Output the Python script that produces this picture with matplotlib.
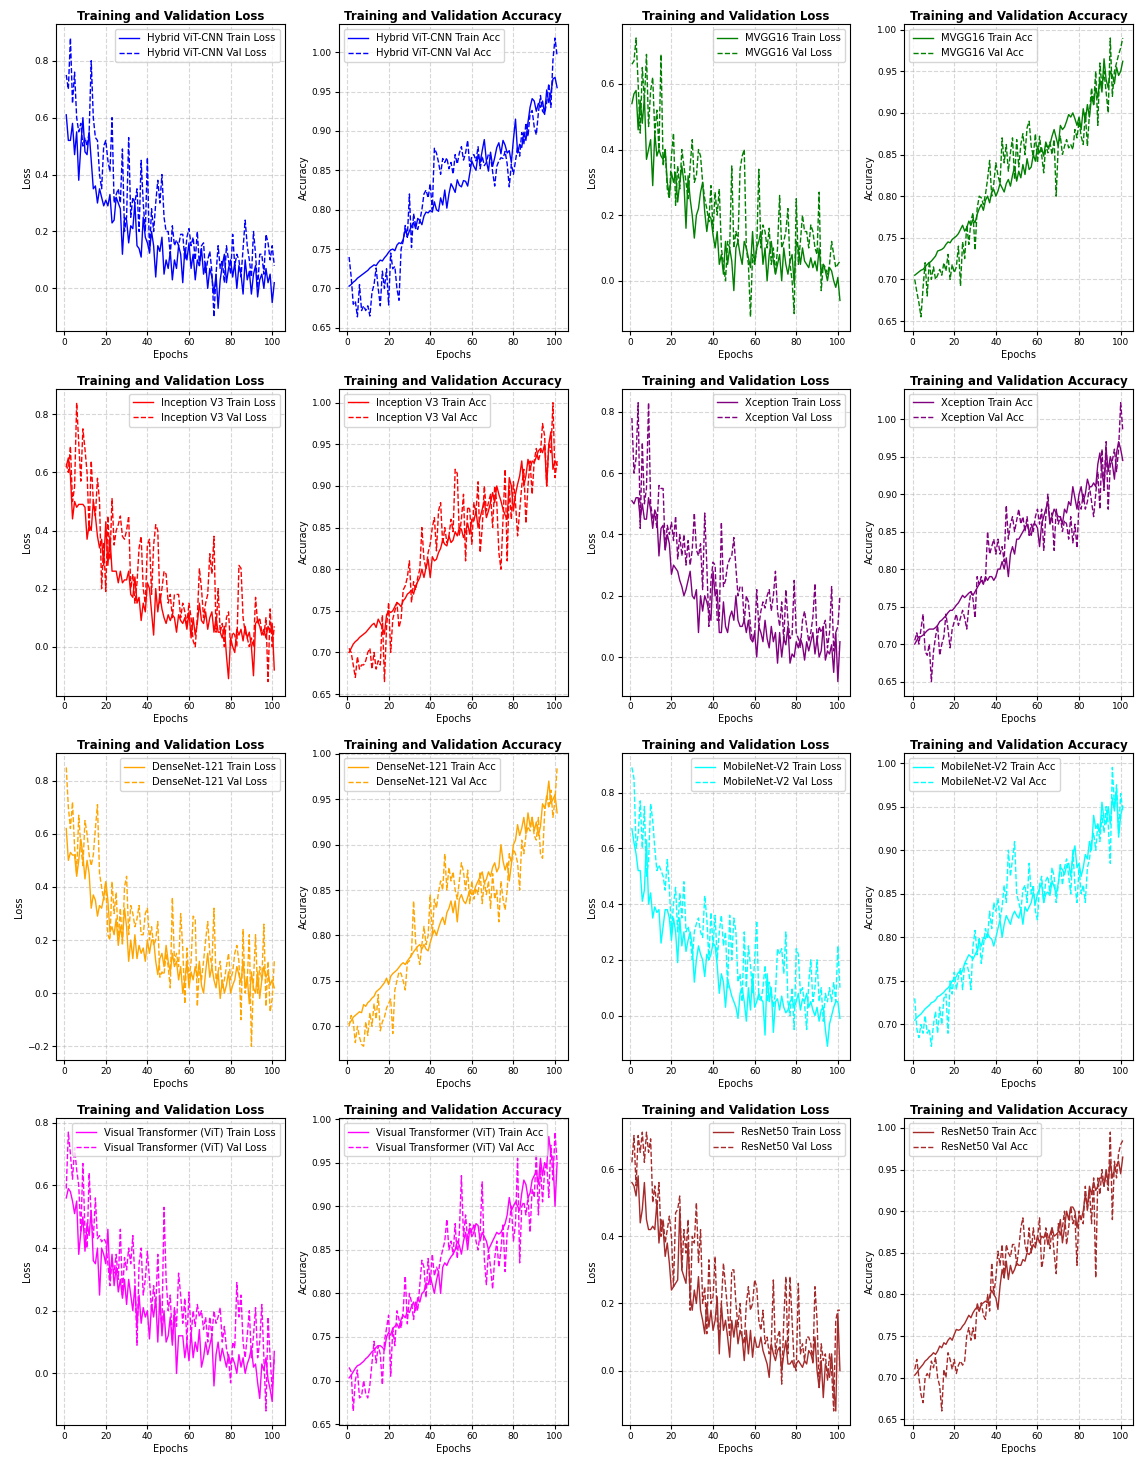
import matplotlib
matplotlib.use("Agg")
import matplotlib.pyplot as plt
import numpy as np

epochs = list(range(1, 102))

model_names = ["Hybrid ViT-CNN", "MVGG16", "Inception V3", "Xception",
               "DenseNet-121", "MobileNet-V2", "Visual Transformer (ViT)", "ResNet50"]
model_colors = ["blue", "green", "red", "purple", "orange", "cyan", "magenta", "brown"]

# ---------------- Hybrid ViT-CNN ----------------
hv_tl = [0.61, 0.52, 0.52, 0.58, 0.47, 0.55, 0.38, 0.50, 0.60, 0.48,
         0.47, 0.55, 0.45, 0.35, 0.36, 0.30, 0.35, 0.32, 0.29, 0.31,
         0.29, 0.33, 0.23, 0.24, 0.32, 0.30, 0.28, 0.12, 0.25, 0.24,
         0.16, 0.22, 0.21, 0.30, 0.15, 0.14, 0.11, 0.25, 0.18, 0.16,
         0.13, 0.20, 0.15, 0.04, 0.15, 0.13, 0.18, 0.05, 0.10, 0.07,
         0.13, 0.03, 0.10, 0.07, 0.15, 0.12, 0.02, 0.14, 0.10, 0.16,
         0.07, 0.12, 0.03, 0.10, 0.08, 0.14, 0.05, 0.09, 0.00, 0.07,
         0.04, -0.02, 0.05, -0.07, 0.03, 0.08, 0.12, 0.02, 0.07, 0.10,
         0.04, 0.09, 0.00, 0.08, 0.05, -0.02, 0.10, 0.03, 0.06, -0.02,
         0.05, 0.08, -0.03, 0.03, 0.05, 0.00, 0.07, 0.02, 0.05, -0.05,
         0.02]
hv_vl = [0.75, 0.70, 0.88, 0.65, 0.76, 0.60, 0.55, 0.58, 0.50, 0.53,
         0.50, 0.55, 0.80, 0.60, 0.53, 0.52, 0.40, 0.35, 0.50, 0.52,
         0.45, 0.41, 0.60, 0.30, 0.33, 0.35, 0.30, 0.49, 0.20, 0.25,
         0.53, 0.25, 0.32, 0.30, 0.35, 0.20, 0.45, 0.30, 0.20, 0.46,
         0.12, 0.28, 0.20, 0.30, 0.38, 0.30, 0.40, 0.25, 0.20, 0.20,
         0.12, 0.22, 0.15, 0.17, 0.15, 0.19, 0.19, 0.10, 0.18, 0.21,
         0.15, 0.18, 0.10, 0.20, 0.08, 0.15, 0.16, 0.05, 0.10, 0.13,
         0.06, -0.10, 0.05, 0.15, 0.07, 0.10, 0.02, 0.15, 0.10, 0.05,
         0.19, 0.08, 0.12, 0.10, 0.04, 0.14, 0.24, 0.15, 0.10, 0.04,
         0.20, 0.12, 0.00, 0.12, 0.12, 0.05, 0.19, 0.16, 0.10, 0.15,
         0.08]
hv_ta = [0.703, 0.705, 0.708, 0.710, 0.713, 0.715, 0.717, 0.719, 0.721, 0.723,
         0.726, 0.728, 0.730, 0.729, 0.733, 0.736, 0.735, 0.739, 0.742, 0.746,
         0.749, 0.750, 0.748, 0.755, 0.758, 0.757, 0.762, 0.775, 0.766, 0.773,
         0.779, 0.784, 0.776, 0.789, 0.786, 0.781, 0.792, 0.797, 0.796, 0.799,
         0.797, 0.810, 0.800, 0.798, 0.815, 0.806, 0.825, 0.802, 0.820, 0.833,
         0.828, 0.822, 0.838, 0.831, 0.829, 0.837, 0.836, 0.830, 0.846, 0.862,
         0.855, 0.850, 0.870, 0.860, 0.875, 0.889, 0.862, 0.849, 0.873, 0.855,
         0.866, 0.879, 0.885, 0.871, 0.888, 0.882, 0.872, 0.875, 0.860, 0.889,
         0.915, 0.872, 0.883, 0.879, 0.898, 0.888, 0.911, 0.930, 0.941, 0.938,
         0.925, 0.935, 0.930, 0.938, 0.921, 0.952, 0.936, 0.948, 0.966, 0.968,
         0.955]
hv_va = [0.740, 0.715, 0.680, 0.684, 0.664, 0.705, 0.672, 0.678, 0.672, 0.678,
         0.665, 0.695, 0.705, 0.726, 0.700, 0.678, 0.722, 0.700, 0.725, 0.679,
         0.745, 0.725, 0.728, 0.700, 0.685, 0.750, 0.760, 0.780, 0.765, 0.820,
         0.752, 0.795, 0.780, 0.775, 0.786, 0.800, 0.820, 0.825, 0.815, 0.833,
         0.800, 0.878, 0.872, 0.860, 0.845, 0.865, 0.860, 0.866, 0.852, 0.860,
         0.845, 0.870, 0.858, 0.872, 0.880, 0.863, 0.872, 0.888, 0.855, 0.868,
         0.870, 0.862, 0.880, 0.852, 0.868, 0.856, 0.860, 0.871, 0.868, 0.848,
         0.830, 0.855, 0.862, 0.866, 0.865, 0.874, 0.858, 0.829, 0.858, 0.845,
         0.862, 0.880, 0.868, 0.898, 0.883, 0.910, 0.893, 0.922, 0.926, 0.905,
         0.895, 0.923, 0.945, 0.925, 0.922, 0.936, 0.960, 0.930, 0.990, 1.018,
         0.995]

# ---------------- MVGG16 ----------------
mv_tl = [0.54, 0.57, 0.58, 0.46, 0.55, 0.48, 0.56, 0.37, 0.40, 0.43,
         0.29, 0.45, 0.38, 0.40, 0.38, 0.37, 0.40, 0.30, 0.26, 0.33,
         0.30, 0.33, 0.24, 0.30, 0.35, 0.30, 0.16, 0.32, 0.25, 0.20,
         0.13, 0.20, 0.22, 0.27, 0.30, 0.21, 0.15, 0.20, 0.19, 0.14,
         0.10, 0.15, 0.05, 0.08, 0.02, 0.12, 0.05, 0.10, 0.06, -0.03,
         0.10, 0.12, 0.08, 0.05, 0.12, 0.10, 0.07, 0.04, 0.15, 0.05,
         0.10, 0.12, 0.15, 0.05, 0.10, 0.00, 0.08, 0.12, 0.06, 0.02,
         0.05, 0.08, 0.00, 0.10, 0.05, 0.02, 0.06, 0.08, -0.01, 0.12,
         0.10, 0.05, 0.10, 0.06, 0.05, 0.04, 0.07, 0.04, 0.06, 0.03,
         0.10, 0.02, 0.05, 0.03, 0.00, 0.04, 0.03, 0.00, -0.02, 0.01,
         -0.06]
mv_vl = [0.66, 0.67, 0.74, 0.60, 0.45, 0.65, 0.55, 0.69, 0.47, 0.58,
         0.62, 0.45, 0.52, 0.40, 0.69, 0.35, 0.40, 0.28, 0.25, 0.38,
         0.45, 0.23, 0.35, 0.28, 0.40, 0.35, 0.30, 0.25, 0.35, 0.43,
         0.30, 0.32, 0.40, 0.38, 0.30, 0.25, 0.22, 0.18, 0.29, 0.15,
         0.27, 0.20, 0.28, 0.10, 0.05, 0.00, 0.12, 0.10, 0.35, 0.10,
         0.15, 0.12, 0.34, 0.38, 0.40, 0.10, 0.05, -0.11, 0.08, 0.05,
         0.10, 0.34, 0.10, 0.17, 0.15, 0.10, 0.16, 0.05, 0.10, 0.02,
         0.10, 0.26, 0.10, 0.12, 0.15, 0.22, 0.05, 0.00, -0.10, 0.25,
         0.05, 0.12, 0.20, 0.15, 0.15, 0.10, 0.17, 0.15, 0.10, 0.08,
         0.27, -0.03, 0.05, 0.04, 0.02, 0.05, 0.12, 0.08, 0.04, 0.05,
         0.06]
mv_ta = [0.705, 0.707, 0.709, 0.711, 0.712, 0.715, 0.718, 0.720, 0.722, 0.725,
         0.728, 0.734, 0.735, 0.736, 0.738, 0.742, 0.745, 0.744, 0.748, 0.750,
         0.752, 0.755, 0.760, 0.765, 0.758, 0.762, 0.770, 0.765, 0.772, 0.768,
         0.778, 0.785, 0.790, 0.783, 0.795, 0.800, 0.792, 0.805, 0.808, 0.800,
         0.806, 0.815, 0.810, 0.805, 0.815, 0.820, 0.812, 0.825, 0.835, 0.818,
         0.830, 0.822, 0.838, 0.826, 0.845, 0.832, 0.835, 0.850, 0.842, 0.860,
         0.852, 0.858, 0.848, 0.865, 0.858, 0.862, 0.872, 0.880, 0.870, 0.860,
         0.885, 0.880, 0.883, 0.890, 0.898, 0.895, 0.900, 0.893, 0.885, 0.895,
         0.880, 0.905, 0.890, 0.910, 0.895, 0.920, 0.910, 0.930, 0.918, 0.940,
         0.925, 0.965, 0.940, 0.930, 0.950, 0.945, 0.935, 0.955, 0.945, 0.950,
         0.962]
mv_va = [0.700, 0.685, 0.672, 0.655, 0.690, 0.720, 0.680, 0.722, 0.700, 0.715,
         0.700, 0.705, 0.712, 0.705, 0.720, 0.710, 0.730, 0.700, 0.718, 0.708,
         0.715, 0.740, 0.692, 0.745, 0.725, 0.765, 0.742, 0.770, 0.780, 0.735,
         0.785, 0.800, 0.798, 0.790, 0.802, 0.820, 0.843, 0.800, 0.815, 0.840,
         0.825, 0.815, 0.870, 0.840, 0.862, 0.830, 0.852, 0.870, 0.820, 0.868,
         0.835, 0.862, 0.875, 0.850, 0.882, 0.890, 0.860, 0.848, 0.875, 0.840,
         0.872, 0.850, 0.828, 0.862, 0.852, 0.865, 0.850, 0.868, 0.800, 0.862,
         0.872, 0.850, 0.860, 0.868, 0.858, 0.862, 0.856, 0.880, 0.870, 0.890,
         0.872, 0.862, 0.900, 0.860, 0.900, 0.930, 0.910, 0.950, 0.885, 0.960,
         0.930, 0.950, 0.925, 0.900, 0.990, 0.920, 0.950, 0.960, 0.970, 0.978,
         0.990]

# ---------------- Inception V3 ----------------
iv_tl = [0.62, 0.65, 0.59, 0.44, 0.50, 0.48, 0.49, 0.49, 0.49, 0.48,
         0.37, 0.42, 0.40, 0.50, 0.45, 0.38, 0.34, 0.37, 0.28, 0.43,
         0.28, 0.38, 0.26, 0.26, 0.26, 0.22, 0.26, 0.22, 0.23, 0.23,
         0.26, 0.18, 0.17, 0.24, 0.15, 0.17, 0.09, 0.15, 0.12, 0.22,
         0.20, 0.12, 0.04, 0.20, 0.12, 0.18, 0.13, 0.10, 0.08, 0.11,
         0.09, 0.11, 0.10, 0.05, 0.11, 0.09, 0.08, 0.10, 0.06, 0.12,
         0.03, 0.10, 0.04, 0.08, 0.15, 0.09, 0.08, 0.12, 0.06, 0.10,
         0.12, 0.05, 0.10, 0.05, 0.05, 0.03, 0.07, -0.03, -0.11, 0.03,
         0.00, -0.02, 0.06, 0.04, 0.06, 0.02, 0.07, 0.03, 0.05, 0.00,
         -0.10, 0.08, 0.09, 0.07, 0.04, 0.06, 0.03, 0.07, 0.05, 0.08,
         -0.08]
iv_vl = [0.63, 0.60, 0.69, 0.50, 0.55, 0.84, 0.70, 0.57, 0.75, 0.68,
         0.60, 0.40, 0.64, 0.50, 0.45, 0.58, 0.50, 0.20, 0.36, 0.19,
         0.45, 0.30, 0.51, 0.35, 0.40, 0.42, 0.45, 0.38, 0.37, 0.40,
         0.45, 0.20, 0.25, 0.15, 0.22, 0.34, 0.38, 0.20, 0.15, 0.35,
         0.37, 0.18, 0.35, 0.42, 0.40, 0.15, 0.20, 0.26, 0.25, 0.15,
         0.18, 0.10, 0.18, 0.18, 0.18, 0.10, 0.15, 0.12, 0.08, 0.15,
         0.10, 0.02, 0.00, 0.10, 0.27, 0.20, 0.10, 0.15, 0.18, 0.32,
         0.25, 0.38, 0.05, 0.20, 0.05, 0.08, 0.00, 0.10, 0.12, 0.00,
         0.05, 0.04, 0.00, 0.28, 0.27, 0.10, 0.05, 0.03, 0.00, 0.03,
         0.00, 0.17, 0.08, 0.10, 0.05, 0.04, 0.10, -0.12, 0.13, 0.00,
         0.07]
iv_ta = [0.700, 0.705, 0.710, 0.713, 0.715, 0.718, 0.720, 0.722, 0.724, 0.727,
         0.730, 0.733, 0.735, 0.730, 0.740, 0.735, 0.730, 0.722, 0.745, 0.750,
         0.748, 0.750, 0.755, 0.760, 0.758, 0.755, 0.762, 0.765, 0.770, 0.772,
         0.775, 0.770, 0.780, 0.785, 0.790, 0.800, 0.790, 0.802, 0.812, 0.790,
         0.815, 0.810, 0.812, 0.820, 0.825, 0.835, 0.830, 0.828, 0.840, 0.832,
         0.835, 0.845, 0.840, 0.850, 0.848, 0.838, 0.845, 0.855, 0.842, 0.860,
         0.858, 0.870, 0.850, 0.862, 0.872, 0.882, 0.862, 0.870, 0.880, 0.892,
         0.880, 0.900, 0.890, 0.882, 0.872, 0.865, 0.860, 0.910, 0.900, 0.870,
         0.890, 0.902, 0.912, 0.930, 0.900, 0.912, 0.932, 0.920, 0.930, 0.928,
         0.935, 0.942, 0.945, 0.940, 0.950, 0.900, 0.950, 0.965, 0.920, 0.930,
         0.925]
iv_va = [0.705, 0.700, 0.685, 0.670, 0.695, 0.680, 0.685, 0.685, 0.690, 0.700,
         0.705, 0.680, 0.700, 0.680, 0.690, 0.685, 0.745, 0.665, 0.730, 0.760,
         0.700, 0.740, 0.750, 0.760, 0.730, 0.740, 0.775, 0.780, 0.790, 0.810,
         0.760, 0.785, 0.775, 0.790, 0.800, 0.850, 0.812, 0.800, 0.820, 0.830,
         0.850, 0.862, 0.822, 0.870, 0.880, 0.830, 0.850, 0.832, 0.840, 0.860,
         0.845, 0.920, 0.915, 0.840, 0.860, 0.890, 0.810, 0.875, 0.872, 0.830,
         0.880, 0.868, 0.905, 0.820, 0.850, 0.900, 0.870, 0.880, 0.890, 0.850,
         0.900, 0.880, 0.820, 0.800, 0.860, 0.920, 0.810, 0.900, 0.860, 0.905,
         0.880, 0.840, 0.870, 0.900, 0.920, 0.855, 0.900, 0.930, 0.890, 0.930,
         0.945, 0.930, 0.940, 0.975, 0.960, 0.900, 0.950, 0.940, 1.000, 0.910,
         0.930]

# ---------------- Xception ----------------
xc_tl = [0.51, 0.50, 0.52, 0.52, 0.45, 0.50, 0.45, 0.45, 0.52, 0.48,
         0.42, 0.48, 0.46, 0.33, 0.42, 0.43, 0.35, 0.40, 0.37, 0.27,
         0.30, 0.29, 0.28, 0.25, 0.23, 0.20, 0.22, 0.25, 0.28, 0.20,
         0.19, 0.22, 0.08, 0.20, 0.15, 0.20, 0.18, 0.15, 0.12, 0.28,
         0.20, 0.22, 0.08, 0.08, 0.18, 0.10, 0.08, 0.13, 0.15, 0.12,
         0.20, 0.12, 0.10, 0.10, 0.12, 0.08, 0.12, 0.06, 0.05, 0.08,
         0.00, 0.10, 0.08, 0.05, 0.12, 0.06, 0.03, 0.10, 0.05, 0.08,
         -0.02, 0.08, 0.00, 0.06, 0.04, 0.10, -0.02, 0.01, 0.00, 0.05,
         0.03, 0.06, 0.04, -0.01, 0.05, 0.02, 0.05, 0.08, 0.01, 0.06,
         0.00, 0.02, 0.10, -0.01, 0.02, 0.01, 0.04, -0.05, 0.08, -0.08,
         0.05]
xc_vl = [0.78, 0.60, 0.65, 0.83, 0.42, 0.70, 0.50, 0.55, 0.83, 0.50,
         0.45, 0.47, 0.42, 0.56, 0.55, 0.55, 0.35, 0.43, 0.40, 0.44,
         0.38, 0.46, 0.32, 0.40, 0.33, 0.40, 0.30, 0.38, 0.30, 0.35,
         0.47, 0.35, 0.33, 0.37, 0.22, 0.47, 0.30, 0.10, 0.25, 0.31,
         0.30, 0.12, 0.12, 0.44, 0.23, 0.25, 0.30, 0.32, 0.33, 0.39,
         0.29, 0.20, 0.23, 0.23, 0.11, 0.20, 0.18, 0.10, 0.05, 0.07,
         0.22, 0.10, 0.15, 0.18, 0.16, 0.20, 0.22, 0.15, 0.20, 0.28,
         0.15, 0.10, 0.18, 0.05, 0.22, 0.12, 0.06, 0.07, 0.25, 0.08,
         0.06, 0.03, 0.12, 0.15, 0.10, 0.05, 0.08, 0.13, 0.24, 0.05,
         0.10, 0.08, 0.10, 0.12, 0.03, 0.08, 0.23, 0.02, 0.08, 0.10,
         0.20]
xc_ta = [0.700, 0.705, 0.710, 0.710, 0.712, 0.715, 0.718, 0.720, 0.720, 0.720,
         0.722, 0.725, 0.730, 0.732, 0.735, 0.738, 0.742, 0.745, 0.745, 0.748,
         0.752, 0.755, 0.760, 0.765, 0.762, 0.765, 0.768, 0.770, 0.765, 0.770,
         0.775, 0.780, 0.785, 0.780, 0.790, 0.785, 0.790, 0.790, 0.785, 0.790,
         0.800, 0.800, 0.810, 0.800, 0.815, 0.790, 0.820, 0.830, 0.820, 0.840,
         0.840, 0.845, 0.850, 0.855, 0.860, 0.850, 0.845, 0.860, 0.860, 0.855,
         0.830, 0.860, 0.870, 0.880, 0.890, 0.860, 0.870, 0.880, 0.875, 0.870,
         0.870, 0.860, 0.880, 0.875, 0.890, 0.885, 0.910, 0.895, 0.880, 0.900,
         0.910, 0.890, 0.900, 0.920, 0.910, 0.910, 0.915, 0.910, 0.940, 0.955,
         0.930, 0.910, 0.960, 0.930, 0.950, 0.940, 0.920, 0.955, 0.970, 0.960,
         0.945]
xc_va = [0.705, 0.715, 0.700, 0.720, 0.740, 0.690, 0.685, 0.700, 0.650, 0.690,
         0.710, 0.725, 0.685, 0.700, 0.710, 0.740, 0.720, 0.695, 0.720, 0.730,
         0.740, 0.725, 0.735, 0.745, 0.735, 0.720, 0.750, 0.770, 0.760, 0.735,
         0.790, 0.780, 0.790, 0.780, 0.785, 0.850, 0.820, 0.830, 0.840, 0.820,
         0.840, 0.820, 0.830, 0.810, 0.885, 0.840, 0.860, 0.870, 0.850, 0.865,
         0.880, 0.860, 0.870, 0.850, 0.870, 0.845, 0.860, 0.850, 0.870, 0.880,
         0.860, 0.880, 0.825, 0.870, 0.900, 0.860, 0.875, 0.825, 0.880, 0.860,
         0.870, 0.850, 0.865, 0.860, 0.840, 0.870, 0.835, 0.860, 0.828, 0.890,
         0.880, 0.900, 0.880, 0.890, 0.910, 0.890, 0.870, 0.900, 0.930, 0.880,
         0.960, 0.905, 0.970, 0.880, 0.940, 0.945, 0.960, 0.930, 0.960, 1.022,
         0.985]

# ---------------- DenseNet-121 ----------------
dn_tl = [0.62, 0.50, 0.53, 0.52, 0.52, 0.44, 0.50, 0.58, 0.52, 0.43,
         0.50, 0.45, 0.32, 0.37, 0.35, 0.29, 0.33, 0.32, 0.36, 0.42,
         0.35, 0.23, 0.25, 0.22, 0.28, 0.18, 0.25, 0.20, 0.32, 0.25,
         0.12, 0.20, 0.13, 0.22, 0.13, 0.18, 0.15, 0.17, 0.12, 0.20,
         0.15, 0.20, 0.20, 0.12, 0.07, 0.13, 0.15, 0.10, 0.18, 0.12,
         0.08, 0.15, 0.10, 0.12, 0.05, 0.10, 0.00, 0.05, 0.12, 0.02,
         0.08, 0.05, 0.10, 0.06, 0.12, 0.03, 0.00, 0.08, 0.15, 0.06,
         0.10, 0.05, 0.02, 0.08, -0.02, 0.05, 0.00, 0.03, 0.08, 0.00,
         0.03, 0.05, 0.10, 0.07, 0.04, 0.12, 0.02, 0.06, -0.04, 0.08,
         0.02, 0.00, 0.08, -0.02, 0.05, 0.10, 0.06, 0.08, 0.03, 0.05,
         0.02]
dn_vl = [0.85, 0.70, 0.62, 0.72, 0.55, 0.45, 0.67, 0.55, 0.48, 0.65,
         0.60, 0.52, 0.48, 0.52, 0.62, 0.71, 0.45, 0.40, 0.35, 0.42,
         0.22, 0.20, 0.42, 0.30, 0.38, 0.20, 0.32, 0.18, 0.40, 0.44,
         0.22, 0.33, 0.30, 0.25, 0.28, 0.33, 0.22, 0.22, 0.30, 0.32,
         0.20, 0.25, 0.18, 0.20, 0.27, 0.06, 0.08, 0.07, 0.15, 0.10,
         0.02, 0.36, 0.12, 0.15, 0.10, 0.30, 0.17, -0.04, 0.17, 0.05,
         0.12, 0.29, 0.28, -0.05, 0.10, 0.05, 0.12, 0.20, 0.27, 0.15,
         0.10, 0.32, 0.05, 0.08, 0.12, 0.02, 0.05, 0.10, 0.15, 0.05,
         0.08, 0.15, 0.18, 0.12, -0.10, 0.24, 0.00, 0.05, 0.22, -0.20,
         0.05, 0.22, 0.00, 0.10, 0.05, 0.26, -0.05, 0.12, -0.07, -0.02,
         0.12]
dn_ta = [0.703, 0.706, 0.710, 0.712, 0.714, 0.716, 0.715, 0.724, 0.722, 0.726,
         0.728, 0.731, 0.733, 0.738, 0.740, 0.742, 0.745, 0.748, 0.753, 0.746,
         0.755, 0.758, 0.760, 0.762, 0.765, 0.768, 0.770, 0.768, 0.772, 0.775,
         0.778, 0.782, 0.785, 0.788, 0.790, 0.785, 0.790, 0.785, 0.783, 0.792,
         0.800, 0.806, 0.800, 0.808, 0.815, 0.820, 0.812, 0.825, 0.830, 0.838,
         0.825, 0.838, 0.815, 0.840, 0.845, 0.838, 0.835, 0.842, 0.850, 0.845,
         0.848, 0.855, 0.860, 0.865, 0.870, 0.858, 0.862, 0.870, 0.865, 0.875,
         0.880, 0.870, 0.875, 0.900, 0.882, 0.872, 0.880, 0.860, 0.878, 0.900,
         0.905, 0.922, 0.910, 0.918, 0.930, 0.912, 0.935, 0.920, 0.930, 0.915,
         0.925, 0.910, 0.920, 0.945, 0.940, 0.950, 0.970, 0.945, 0.950, 0.955,
         0.935]
dn_va = [0.700, 0.712, 0.705, 0.682, 0.700, 0.688, 0.680, 0.678, 0.705, 0.690,
         0.715, 0.700, 0.725, 0.708, 0.735, 0.695, 0.705, 0.710, 0.720, 0.725,
         0.730, 0.692, 0.740, 0.750, 0.760, 0.758, 0.750, 0.740, 0.770, 0.772,
         0.780, 0.838, 0.792, 0.780, 0.768, 0.790, 0.810, 0.790, 0.800, 0.845,
         0.800, 0.840, 0.830, 0.848, 0.860, 0.850, 0.890, 0.850, 0.875, 0.860,
         0.870, 0.850, 0.840, 0.860, 0.880, 0.870, 0.850, 0.872, 0.835, 0.860,
         0.840, 0.852, 0.845, 0.870, 0.835, 0.860, 0.845, 0.860, 0.830, 0.868,
         0.840, 0.850, 0.815, 0.860, 0.840, 0.828, 0.850, 0.890, 0.880, 0.895,
         0.890, 0.880, 0.850, 0.905, 0.890, 0.910, 0.920, 0.915, 0.930, 0.910,
         0.905, 0.930, 0.890, 0.885, 0.935, 0.955, 0.940, 0.960, 0.930, 0.950,
         0.985]

# ---------------- MobileNet-V2 ----------------
mn_tl = [0.67, 0.62, 0.58, 0.52, 0.52, 0.41, 0.45, 0.63, 0.40, 0.44,
         0.35, 0.39, 0.37, 0.38, 0.26, 0.32, 0.38, 0.38, 0.35, 0.27,
         0.35, 0.30, 0.19, 0.35, 0.25, 0.30, 0.23, 0.27, 0.30, 0.25,
         0.12, 0.20, 0.25, 0.22, 0.20, 0.14, 0.22, 0.20, 0.22, 0.26,
         0.25, 0.18, 0.08, 0.15, 0.12, 0.03, 0.13, 0.10, 0.07, 0.05,
         0.03, -0.01, 0.08, 0.10, 0.05, -0.02, 0.10, 0.02, 0.15, 0.03,
         0.05, 0.08, 0.06, 0.05, -0.07, 0.15, 0.05, 0.10, -0.06, 0.05,
         0.06, 0.02, 0.07, 0.03, 0.01, 0.02, 0.05, 0.06, 0.03, 0.05,
         0.08, 0.02, 0.06, 0.05, 0.08, 0.03, 0.05, 0.02, 0.00, 0.03,
         -0.02, 0.02, 0.03, -0.05, -0.11, -0.03, 0.00, 0.03, 0.05, 0.05,
         -0.01]
mn_vl = [0.89, 0.85, 0.60, 0.65, 0.77, 0.60, 0.75, 0.50, 0.55, 0.76,
         0.70, 0.60, 0.52, 0.54, 0.52, 0.50, 0.45, 0.56, 0.46, 0.30,
         0.40, 0.46, 0.30, 0.44, 0.35, 0.48, 0.30, 0.32, 0.28, 0.20,
         0.30, 0.33, 0.35, 0.30, 0.28, 0.43, 0.35, 0.20, 0.37, 0.25,
         0.36, 0.20, 0.30, 0.36, 0.25, 0.30, 0.10, 0.36, 0.20, 0.35,
         0.30, 0.12, 0.15, 0.05, 0.30, 0.10, 0.25, 0.18, 0.08, 0.20,
         0.34, 0.06, 0.05, 0.10, 0.18, 0.05, 0.12, 0.08, 0.03, 0.08,
         0.24, 0.22, 0.24, 0.15, 0.30, 0.05, 0.00, 0.10, -0.05, 0.24,
         0.22, 0.08, 0.10, 0.04, -0.05, 0.12, 0.20, 0.05, 0.10, 0.20,
         0.05, 0.10, -0.02, 0.08, 0.05, 0.10, 0.05, 0.12, 0.05, 0.25,
         0.10]
mn_ta = [0.705, 0.708, 0.710, 0.712, 0.715, 0.718, 0.720, 0.722, 0.725, 0.726,
         0.728, 0.732, 0.733, 0.735, 0.737, 0.740, 0.742, 0.745, 0.750, 0.752,
         0.755, 0.760, 0.758, 0.762, 0.770, 0.775, 0.780, 0.778, 0.775, 0.780,
         0.785, 0.795, 0.790, 0.800, 0.798, 0.805, 0.800, 0.798, 0.790, 0.800,
         0.810, 0.820, 0.800, 0.815, 0.825, 0.820, 0.815, 0.825, 0.830, 0.825,
         0.822, 0.832, 0.815, 0.835, 0.830, 0.835, 0.840, 0.852, 0.838, 0.850,
         0.856, 0.862, 0.840, 0.850, 0.852, 0.848, 0.865, 0.858, 0.850, 0.862,
         0.880, 0.878, 0.872, 0.882, 0.885, 0.870, 0.895, 0.905, 0.880, 0.885,
         0.870, 0.880, 0.895, 0.890, 0.910, 0.900, 0.940, 0.925, 0.930, 0.920,
         0.955, 0.935, 0.930, 0.950, 0.930, 0.960, 0.945, 0.970, 0.915, 0.940,
         0.950]
mn_va = [0.730, 0.695, 0.685, 0.700, 0.690, 0.710, 0.690, 0.695, 0.675, 0.700,
         0.715, 0.690, 0.720, 0.700, 0.730, 0.735, 0.690, 0.750, 0.735, 0.760,
         0.740, 0.755, 0.765, 0.740, 0.770, 0.770, 0.760, 0.740, 0.790, 0.808,
         0.780, 0.800, 0.770, 0.790, 0.810, 0.800, 0.830, 0.810, 0.840, 0.830,
         0.845, 0.820, 0.835, 0.860, 0.840, 0.900, 0.870, 0.890, 0.910, 0.850,
         0.840, 0.830, 0.855, 0.860, 0.840, 0.885, 0.850, 0.860, 0.830, 0.820,
         0.860, 0.870, 0.840, 0.865, 0.870, 0.850, 0.880, 0.870, 0.840, 0.860,
         0.885, 0.860, 0.880, 0.890, 0.870, 0.850, 0.900, 0.860, 0.840, 0.880,
         0.850, 0.860, 0.840, 0.880, 0.890, 0.910, 0.920, 0.900, 0.930, 0.910,
         0.940, 0.920, 0.950, 0.930, 0.885, 0.995, 0.950, 0.975, 0.920, 0.965,
         0.945]

# ---------------- Visual Transformer (ViT) ----------------
vt_tl = [0.56, 0.59, 0.58, 0.55, 0.51, 0.55, 0.38, 0.45, 0.50, 0.39,
         0.48, 0.44, 0.52, 0.36, 0.35, 0.40, 0.25, 0.40, 0.38, 0.35,
         0.46, 0.30, 0.38, 0.28, 0.34, 0.26, 0.30, 0.24, 0.30, 0.22,
         0.30, 0.25, 0.20, 0.28, 0.15, 0.25, 0.16, 0.21, 0.18, 0.20,
         0.11, 0.22, 0.18, 0.24, 0.10, 0.25, 0.12, 0.20, 0.10, 0.12,
         0.18, 0.09, 0.20, 0.00, 0.12, 0.12, 0.12, 0.05, 0.10, 0.04,
         0.13, 0.05, 0.10, 0.07, 0.14, 0.02, 0.05, 0.10, 0.06, 0.09,
         0.12, -0.04, 0.06, 0.10, 0.04, 0.08, 0.05, 0.02, 0.06, 0.03,
         0.05, 0.03, 0.00, 0.06, 0.02, 0.05, 0.00, 0.03, 0.05, 0.08,
         0.02, 0.03, -0.03, -0.08, 0.03, 0.01, 0.05, -0.02, -0.05, -0.09,
         0.07]
vt_vl = [0.59, 0.77, 0.70, 0.62, 0.72, 0.65, 0.60, 0.45, 0.67, 0.45,
         0.40, 0.64, 0.50, 0.43, 0.56, 0.43, 0.44, 0.42, 0.43, 0.42,
         0.35, 0.28, 0.36, 0.32, 0.38, 0.30, 0.46, 0.25, 0.37, 0.33,
         0.40, 0.35, 0.44, 0.30, 0.09, 0.35, 0.40, 0.25, 0.30, 0.39,
         0.30, 0.20, 0.28, 0.21, 0.38, 0.20, 0.15, 0.53, 0.30, 0.20,
         0.25, 0.10, 0.21, 0.15, 0.32, 0.25, 0.16, 0.24, 0.10, 0.26,
         0.12, 0.20, 0.15, 0.22, 0.18, 0.20, 0.14, 0.18, 0.10, 0.18,
         0.12, 0.20, 0.16, 0.18, 0.21, 0.10, 0.15, 0.08, 0.05, -0.03,
         0.10, 0.08, 0.29, 0.18, 0.25, 0.10, 0.05, 0.12, 0.20, 0.05,
         0.12, 0.21, 0.05, 0.10, 0.22, 0.05, -0.12, 0.18, 0.05, -0.05,
         0.05]
vt_ta = [0.703, 0.706, 0.710, 0.714, 0.717, 0.718, 0.720, 0.722, 0.725, 0.727,
         0.730, 0.733, 0.735, 0.738, 0.740, 0.740, 0.738, 0.735, 0.750, 0.755,
         0.752, 0.760, 0.762, 0.765, 0.760, 0.770, 0.775, 0.772, 0.780, 0.778,
         0.785, 0.790, 0.780, 0.795, 0.790, 0.800, 0.802, 0.812, 0.810, 0.820,
         0.810, 0.800, 0.815, 0.825, 0.800, 0.830, 0.835, 0.832, 0.838, 0.842,
         0.845, 0.850, 0.860, 0.855, 0.845, 0.860, 0.870, 0.850, 0.875, 0.865,
         0.870, 0.880, 0.878, 0.860, 0.870, 0.865, 0.860, 0.850, 0.855, 0.860,
         0.865, 0.870, 0.868, 0.870, 0.875, 0.880, 0.890, 0.910, 0.895, 0.900,
         0.905, 0.900, 0.895, 0.915, 0.930, 0.925, 0.910, 0.915, 0.930, 0.935,
         0.940, 0.925, 0.955, 0.935, 0.950, 0.945, 0.980, 0.960, 0.955, 0.900,
         0.950]
vt_va = [0.715, 0.710, 0.665, 0.700, 0.712, 0.680, 0.682, 0.700, 0.685, 0.680,
         0.695, 0.720, 0.745, 0.720, 0.740, 0.730, 0.695, 0.745, 0.760, 0.775,
         0.705, 0.760, 0.740, 0.780, 0.770, 0.760, 0.780, 0.820, 0.765, 0.800,
         0.790, 0.770, 0.790, 0.780, 0.810, 0.838, 0.830, 0.795, 0.840, 0.810,
         0.845, 0.820, 0.830, 0.825, 0.840, 0.850, 0.860, 0.885, 0.850, 0.860,
         0.845, 0.880, 0.840, 0.870, 0.935, 0.865, 0.890, 0.860, 0.880, 0.870,
         0.880, 0.860, 0.850, 0.870, 0.928, 0.840, 0.810, 0.850, 0.830, 0.805,
         0.840, 0.860, 0.830, 0.850, 0.880, 0.825, 0.870, 0.880, 0.900, 0.860,
         0.880, 0.955, 0.835, 0.900, 0.905, 0.890, 0.910, 0.870, 0.920, 0.910,
         0.960, 0.890, 0.945, 0.905, 0.940, 0.950, 0.910, 0.970, 0.930, 0.985,
         0.950]

# ---------------- ResNet50 ----------------
rn_tl = [0.56, 0.55, 0.52, 0.58, 0.44, 0.48, 0.56, 0.45, 0.42, 0.42,
         0.43, 0.42, 0.50, 0.38, 0.45, 0.42, 0.34, 0.38, 0.32, 0.24,
         0.25, 0.26, 0.27, 0.48, 0.30, 0.28, 0.26, 0.38, 0.22, 0.18,
         0.24, 0.20, 0.28, 0.18, 0.15, 0.11, 0.20, 0.13, 0.18, 0.12,
         0.15, 0.22, 0.05, 0.20, 0.12, 0.15, 0.10, 0.04, 0.15, 0.10,
         0.15, 0.08, 0.12, 0.10, 0.03, 0.12, 0.05, 0.12, 0.04, 0.10,
         0.07, 0.07, 0.10, 0.06, 0.04, 0.02, -0.02, 0.08, 0.05, 0.03,
         0.06, 0.07, 0.00, 0.05, 0.09, 0.02, 0.02, 0.03, 0.01, 0.02,
         0.03, 0.02, 0.01, 0.03, 0.02, 0.06, 0.05, 0.03, 0.10, 0.00,
         -0.05, 0.03, -0.08, 0.02, 0.00, -0.02, 0.05, -0.05, -0.12, 0.17,
         0.00]
rn_vl = [0.62, 0.70, 0.55, 0.70, 0.65, 0.71, 0.62, 0.71, 0.65, 0.69,
         0.50, 0.55, 0.48, 0.56, 0.40, 0.45, 0.38, 0.42, 0.46, 0.40,
         0.25, 0.47, 0.48, 0.52, 0.30, 0.42, 0.35, 0.45, 0.18, 0.40,
         0.38, 0.50, 0.32, 0.42, 0.20, 0.25, 0.11, 0.33, 0.20, 0.22,
         0.34, 0.15, 0.10, 0.20, 0.32, 0.25, 0.18, 0.10, 0.30, 0.30,
         0.20, 0.13, 0.20, 0.10, 0.08, 0.20, 0.25, 0.18, 0.20, 0.27,
         0.25, 0.15, 0.12, 0.18, 0.08, 0.10, 0.05, 0.08, 0.27, 0.05,
         0.10, 0.12, -0.04, 0.15, 0.28, 0.05, 0.28, 0.15, 0.02, 0.00,
         0.26, 0.05, 0.08, 0.03, 0.10, 0.10, 0.08, 0.02, 0.25, 0.15,
         -0.05, 0.08, 0.03, 0.05, -0.03, 0.05, 0.00, -0.12, 0.15, 0.18,
         0.18]
rn_ta = [0.703, 0.706, 0.710, 0.713, 0.716, 0.720, 0.722, 0.725, 0.727, 0.730,
         0.728, 0.732, 0.738, 0.736, 0.742, 0.740, 0.745, 0.748, 0.745, 0.752,
         0.758, 0.757, 0.758, 0.762, 0.765, 0.770, 0.775, 0.772, 0.778, 0.782,
         0.785, 0.780, 0.788, 0.790, 0.792, 0.790, 0.798, 0.805, 0.800, 0.796,
         0.782, 0.810, 0.830, 0.820, 0.840, 0.818, 0.835, 0.825, 0.830, 0.838,
         0.835, 0.835, 0.842, 0.840, 0.850, 0.848, 0.852, 0.860, 0.856, 0.870,
         0.862, 0.870, 0.868, 0.875, 0.860, 0.872, 0.880, 0.870, 0.872, 0.875,
         0.890, 0.862, 0.880, 0.900, 0.890, 0.905, 0.905, 0.900, 0.880, 0.895,
         0.890, 0.900, 0.920, 0.905, 0.930, 0.920, 0.935, 0.925, 0.930, 0.940,
         0.940, 0.930, 0.950, 0.935, 0.960, 0.940, 0.950, 0.955, 0.960, 0.945,
         0.965]
rn_va = [0.710, 0.722, 0.700, 0.680, 0.670, 0.700, 0.705, 0.700, 0.720, 0.712,
         0.725, 0.700, 0.690, 0.660, 0.710, 0.700, 0.730, 0.722, 0.710, 0.722,
         0.705, 0.715, 0.720, 0.715, 0.720, 0.750, 0.760, 0.745, 0.760, 0.745,
         0.790, 0.780, 0.790, 0.775, 0.770, 0.800, 0.780, 0.838, 0.800, 0.820,
         0.852, 0.835, 0.860, 0.820, 0.860, 0.850, 0.845, 0.860, 0.860, 0.835,
         0.855, 0.880, 0.892, 0.860, 0.850, 0.880, 0.850, 0.880, 0.860, 0.868,
         0.892, 0.832, 0.845, 0.880, 0.870, 0.855, 0.880, 0.850, 0.825, 0.885,
         0.870, 0.880, 0.900, 0.860, 0.880, 0.905, 0.885, 0.895, 0.835, 0.900,
         0.890, 0.885, 0.930, 0.900, 0.925, 0.885, 0.940, 0.820, 0.940, 0.920,
         0.950, 0.930, 0.945, 0.925, 0.995, 0.890, 0.960, 0.940, 0.970, 0.980,
         0.985]

train_loss = [hv_tl, mv_tl, iv_tl, xc_tl, dn_tl, mn_tl, vt_tl, rn_tl]
val_loss = [hv_vl, mv_vl, iv_vl, xc_vl, dn_vl, mn_vl, vt_vl, rn_vl]
train_acc = [hv_ta, mv_ta, iv_ta, xc_ta, dn_ta, mn_ta, vt_ta, rn_ta]
val_acc = [hv_va, mv_va, iv_va, xc_va, dn_va, mn_va, vt_va, rn_va]

TICK = 6.5
LAB = 7.0
LEG = 7.2
fig, axes = plt.subplots(4, 4, figsize=(11.4, 14.57), dpi=100)
fig.subplots_adjust(left=0.049, right=0.994, top=0.9835, bottom=0.022,
                    wspace=0.236, hspace=0.189)

for i, name in enumerate(model_names):
    r = i // 2
    c0 = (i % 2) * 2
    col = model_colors[i]
    axl = axes[r, c0]
    axa = axes[r, c0 + 1]

    axl.plot(epochs, train_loss[i], color=col, lw=1.0, label=f"{name} Train Loss")
    axl.plot(epochs, val_loss[i], color=col, lw=1.0, ls="--", label=f"{name} Val Loss")
    axl.set_title("Training and Validation Loss", fontsize=8.5, fontweight="bold", pad=3)
    axl.set_xlabel("Epochs", fontsize=LAB, labelpad=2)
    axl.set_ylabel("Loss", fontsize=LAB, labelpad=2)
    axl.legend(loc="upper right", fontsize=LEG)

    axa.plot(epochs, train_acc[i], color=col, lw=1.0, label=f"{name} Train Acc")
    axa.plot(epochs, val_acc[i], color=col, lw=1.0, ls="--", label=f"{name} Val Acc")
    axa.set_title("Training and Validation Accuracy", fontsize=8.5, fontweight="bold", pad=3)
    axa.set_xlabel("Epochs", fontsize=LAB, labelpad=2)
    axa.set_ylabel("Accuracy", fontsize=LAB, labelpad=2)
    axa.legend(loc="upper left", fontsize=LEG)

    for ax in (axl, axa):
        ax.grid(True, linestyle="--", alpha=0.5)
        ax.tick_params(labelsize=TICK, length=3, pad=2)
        ax.set_xticks([0, 20, 40, 60, 80, 100])

fig.savefig("out.png", dpi=100)
